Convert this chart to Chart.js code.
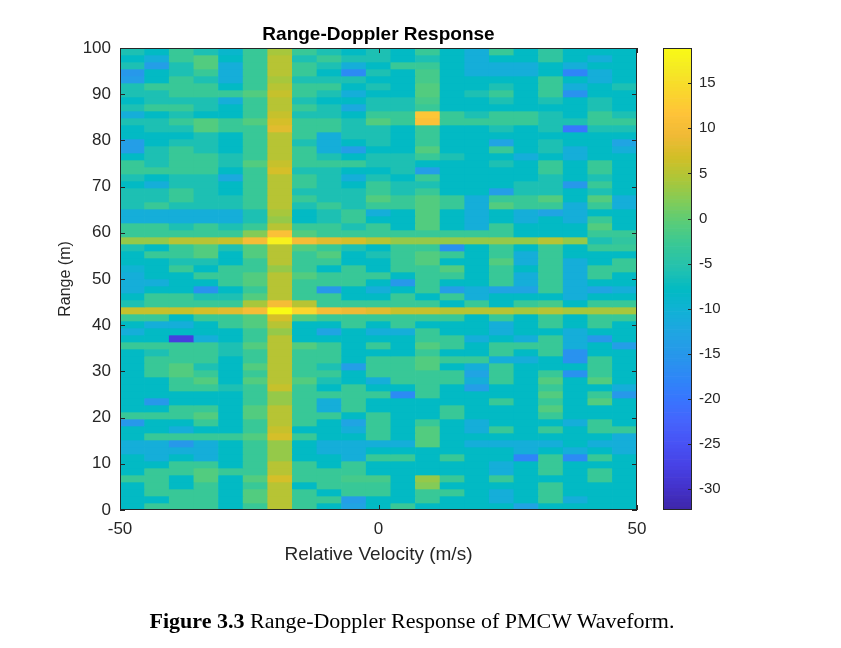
<!DOCTYPE html>
<html>
<head>
<meta charset="utf-8">
<script src="https://cdn.jsdelivr.net/npm/chart.js@4.4.1/dist/chart.umd.min.js"></script>
<style>
html,body{margin:0;padding:0;background:#fff;}
body{width:841px;height:648px;position:relative;overflow:hidden;}
#main{position:absolute;left:0;top:0;width:660px;height:648px;}
#cbar{position:absolute;left:640px;top:0;width:201px;height:648px;}
#caption{position:absolute;left:0;top:608px;width:824px;text-align:center;font-family:"Liberation Serif","Times New Roman",serif;font-size:22px;line-height:26px;color:#000;white-space:nowrap;}
</style>
</head>
<body>
<div id="main"><canvas id="c1"></canvas></div>
<div id="cbar"><canvas id="c2"></canvas></div>
<div id="caption"><b>Figure 3.3</b> Range-Doppler Response of PMCW Waveform.</div>
<script>
// ---------- DATA ----------
const chartTitle = 'Range-Doppler Response';
const xAxisTitle = 'Relative Velocity (m/s)';
const yAxisTitle = 'Range (m)';
// velocity bin centres (m/s), 21 Doppler bins spanning -50..50
const velocityBins = [-47.62,-42.86,-38.10,-33.33,-28.57,-23.81,-19.05,-14.29,-9.52,-4.76,0,4.76,9.52,14.29,19.05,23.81,28.57,33.33,38.10,42.86,47.62];
const rangeMin = 0, rangeMax = 100;
const xTicks = [-50, 0, 50];
const yTicks = [0,10,20,30,40,50,60,70,80,90,100];
const cbarTicks = [-30,-25,-20,-15,-10,-5,0,5,10,15];
const cbarMin = -32.3, cbarMax = 18.9;
// power (dB), one row per range bin, listed from the top (≈100 m) down to 0 m
const powerDb = [
[-6,-8,-3,-6,-9,-3,4,-3,-6,-8,-6,-8,-3,-8,-11,-3,-8,-4,-8,-8,-8],
[-8,-11,-3,-1,-8,-3,5,-6,-3,-6,-6,-8,-6,-8,-11,-8,-8,-4,-8,-11,-8],
[-6,-14,-6,-1,-11,-3,5,-3,-6,-11,-8,-3,-3,-8,-11,-11,-11,-8,-11,-8,-8],
[-15,-8,-6,-3,-11,-3,5,-3,-8,-17,-6,-8,-2,-8,-11,-11,-11,-8,-18,-11,-8],
[-14,-8,-3,-6,-11,-3,4,-6,-6,-6,-8,-8,-2,-8,-8,-8,-8,-3,-8,-11,-8],
[-6,-3,-3,-3,-8,-3,5,-3,-3,-8,-6,-8,-1,-8,-8,-6,-8,-3,-11,-8,-6],
[-6,-6,-3,-3,-3,-1,6,-3,-6,-11,-8,-8,-1,-8,-6,-3,-8,-3,-16,-8,-8],
[-8,-6,-6,-6,-11,-3,5,-6,-8,-8,-6,-6,-2,-8,-8,-6,-8,-6,-8,-6,-8],
[-6,-3,-3,-6,-8,-3,5,-3,-6,-12,-6,-6,-3,-8,-8,-8,-8,-8,-8,-6,-8],
[-11,-8,-6,-8,-8,-3,6,-6,-6,-8,-3,-3,12,-3,-6,-3,-3,-6,-8,-3,-6],
[-6,-6,-3,-1,-3,-1,7,-3,-3,-6,-1,-3,11,-3,-3,-3,-3,-6,-6,-3,-3],
[-8,-6,-6,-1,-3,-3,8,-3,-3,-6,-6,-8,-3,-8,-8,-6,-8,-6,-20,-6,-6],
[-8,-8,-8,-6,-8,-3,5,-3,-11,-6,-6,-8,-3,-8,-8,-8,-8,-8,-8,-8,-8],
[-14,-8,-6,-6,-8,-3,5,-6,-11,-8,-6,-8,-3,-8,-8,-13,-8,-6,-8,-8,-13],
[-14,-6,-3,-6,-8,-3,5,-3,-11,-14,-8,-8,-1,-8,-8,-3,-8,-6,-11,-8,-11],
[-8,-6,-3,-3,-6,-3,5,-3,-6,-8,-6,-6,-3,-6,-8,-8,-11,-8,-11,-8,-8],
[-3,-6,-3,-3,-6,-1,6,-3,-3,-3,-6,-6,-8,-8,-8,-6,-8,-3,-8,-3,-8],
[-3,-3,-3,-3,-8,-3,7,-6,-6,-8,-8,-6,-14,-8,-8,-8,-8,-3,-8,-3,-8],
[-6,-8,-6,-6,-12,-3,5,-3,-6,-11,-6,-8,-3,-8,-8,-8,-8,-6,-8,-6,-8],
[-8,-11,-6,-6,-8,-3,5,-3,-6,-8,-3,-6,-6,-8,-8,-8,-6,-6,-15,-3,-8],
[-6,-6,-3,-6,-8,-3,5,-6,-6,-6,-3,-6,-3,-8,-8,-14,-6,-6,-8,-6,-8],
[-6,-6,-3,-6,-6,-3,5,-3,-6,-6,-1,-3,-1,-3,-11,-3,-3,-1,-8,-1,-11],
[-6,-3,-6,-6,-6,-3,5,-6,-3,-6,-3,-3,-1,-3,-11,-1,-3,-3,-11,-3,-11],
[-11,-11,-11,-11,-11,-6,4,-8,-6,-3,-11,-8,-1,-8,-11,-8,-11,-13,-11,-8,-8],
[-11,-11,-11,-11,-11,-6,3,-8,-6,-3,-8,-8,-1,-8,-11,-8,-11,-8,-11,-3,-8],
[-3,-3,-6,-3,-6,-3,5,-3,-3,-6,-3,-8,-1,-8,-11,-3,-8,-8,-8,-1,-8],
[-3,-3,-3,-3,-3,2,11,-1,-3,-3,-3,-3,-3,-3,-3,-3,-8,-8,-8,-3,-3],
[3,3,5,5,6,10,17.5,10,8,7,5,3,3,3,3,3,3,5,3,-6,-4],
[-6,-8,-3,-1,-6,-1,5,-1,-3,-6,-8,-3,-3,-16,-8,-3,-8,-3,-8,-3,-3],
[-8,-3,-3,-1,-8,-1,5,-3,-1,-8,-6,-3,-1,-3,-8,-3,-11,-3,-8,-8,-8],
[-8,-8,-6,-6,-8,-3,5,-3,-3,-8,-8,-3,-1,-8,-8,-1,-11,-3,-11,-8,-3],
[-10,-8,-3,-8,-3,-3,3,-3,-8,-3,-8,-3,-3,-1,-8,-3,-8,-3,-11,-3,-3],
[-11,-8,-8,-3,-3,-1,5,-1,-3,-3,-3,-8,-3,-3,-8,-3,-11,-3,-11,-3,-8],
[-11,-11,-8,-8,-3,-1,5,-3,-3,-3,-8,-15,-3,-8,-8,-3,-11,-3,-11,-8,-8],
[-11,-8,-8,-16,-8,-3,5,-3,-15,-8,-11,-8,-3,-14,-11,-13,-13,-3,-11,-13,-11],
[-8,-3,-3,-6,-6,-1,5,-3,-3,-8,-8,-3,-8,-3,-11,-8,-8,-8,-11,-8,-8],
[-6,-3,-3,-3,-3,4,10,5,-3,-3,-3,-3,-3,-8,-3,-8,-3,-2,-8,-3,-3],
[6,6,6,7,8,10,18.9,14,10,9,8,6,6,5,5,5,4,5,4,4,4],
[-3,-3,-8,-3,-3,-1,7,-1,-3,-3,-3,-3,-3,-3,-8,-3,-8,-3,-8,-3,-3],
[-8,-11,-11,-8,-3,-1,5,-8,-8,-3,-8,-3,-8,-8,-8,-11,-8,-3,-8,-3,-8],
[-11,-8,-8,-8,-8,-3,3,-8,-13,-8,-11,-11,-3,-8,-8,-11,-8,-8,-11,-8,-8],
[-8,-8,-28,-11,-8,-3,5,-8,-8,-8,-8,-8,-3,-3,-11,-8,-11,-3,-11,-15,-8],
[-3,-3,-3,-3,-6,-1,5,-1,-3,-8,-3,-8,-1,-3,-8,-3,-3,-3,-11,-8,-14],
[-8,-6,-3,-3,-6,-3,5,-3,-3,-8,-8,-8,-3,-8,-8,-3,-8,-3,-16,-8,-8],
[-8,-3,-3,-3,-8,-3,5,-3,-3,-8,-3,-3,-1,-3,-3,-11,-11,-8,-16,-3,-8],
[-8,-3,-1,-6,-8,-1,5,-3,-6,-14,-3,-3,-1,-8,-11,-3,-8,-8,-8,-3,-8],
[-8,-3,-1,-3,-8,-3,5,-3,-3,-8,-3,-3,-3,-3,-13,-3,-8,-3,-16,-3,-8],
[-8,-8,-3,-1,-8,-1,5,-1,-6,-8,-11,-3,-3,-3,-11,-3,-8,-1,-8,-1,-8],
[-8,-8,-3,-3,-6,-3,6,-3,-8,-3,-8,-8,-3,-8,-14,-8,-8,-3,-8,-8,-11],
[-8,-8,-8,-8,-8,-3,3,-3,-3,-3,-3,-17,-3,-8,-8,-8,-8,-1,-8,-3,-15],
[-8,-15,-8,-8,-8,-3,3,-3,-11,-3,-8,-8,-8,-8,-8,-3,-8,-3,-8,-1,-8],
[-8,-8,-3,-3,-8,-1,5,-3,-11,-3,-8,-8,-8,-3,-8,-8,-8,-1,-8,-8,-8],
[-3,-3,-3,-1,-8,-1,5,-3,-3,-8,-3,-8,-8,-3,-8,-8,-8,-3,-8,-8,-8],
[-15,-8,-8,-3,-8,-3,5,-3,-8,-13,-3,-8,-3,-8,-11,-8,-8,-8,-11,-3,-8],
[-8,-8,-11,-8,-8,-3,6,-8,-8,-11,-3,-8,-1,-8,-11,-3,-8,-3,-8,-3,-3],
[-8,-3,-3,-3,-3,-1,7,-3,-8,-8,-3,-8,-1,-8,-8,-8,-8,-8,-8,-8,-11],
[-11,-11,-15,-11,-8,-3,3,-8,-11,-11,-11,-11,-1,-8,-11,-11,-11,-11,-8,-11,-11],
[-11,-11,-11,-11,-8,-3,3,-8,-11,-11,-8,-8,-8,-8,-8,-8,-11,-8,-11,-8,-11],
[-8,-11,-8,-11,-8,-3,3,-8,-8,-11,-3,-3,-8,-3,-8,-8,-18,-3,-17,-3,-8],
[-8,-8,-3,-3,-8,-3,5,-3,-8,-3,-8,-8,-8,-8,-8,-11,-8,-3,-8,-8,-8],
[-8,-3,-3,-1,-3,-3,5,-3,-3,-3,-8,-8,-8,-8,-8,-11,-8,-3,-8,-3,-8],
[-3,-3,-8,-1,-8,-1,7,-3,-3,-2,-2,-8,3,-3,-8,-3,-8,-8,-8,-3,-8],
[-8,-3,-8,-3,-8,-3,5,-8,-3,-3,-3,-8,2,-8,-8,-8,-8,-3,-8,-8,-8],
[-8,-3,-3,-3,-8,-1,5,-3,-8,-3,-3,-8,-3,-3,-8,-11,-8,-3,-8,-8,-8],
[-8,-8,-3,-3,-8,-1,5,-3,-3,-14,-8,-8,-3,-8,-8,-11,-8,-3,-11,-8,-8],
[-8,-3,-3,-3,-8,-3,5,-3,-8,-13,-8,-3,-8,-8,-8,-8,-13,-8,-8,-8,-8]
];

// ---------- STYLE ----------
// parula colormap anchors (every 3rd entry of the 64-colour table)
const PARULA = [
[0.2422,0.1504,0.6603],[0.2647,0.1978,0.7952],[0.2783,0.2559,0.8991],[0.2810,0.3228,0.9579],
[0.2699,0.3892,0.9906],[0.2206,0.4603,0.9973],[0.1786,0.5289,0.9682],[0.1540,0.5902,0.9218],
[0.1248,0.6459,0.8883],[0.0689,0.6948,0.8394],[0.0067,0.7312,0.7660],[0.1408,0.7584,0.6842],
[0.2161,0.7843,0.5923],[0.3406,0.8008,0.4789],[0.5044,0.7993,0.3480],[0.6720,0.7793,0.2227],
[0.8203,0.7498,0.1535],[0.9393,0.7288,0.2100],[0.9970,0.7659,0.2199],[0.9786,0.8386,0.1766],
[0.9597,0.9135,0.1423],[0.9769,0.9839,0.0805]];
function parula(v) {
  let t = (v - cbarMin) / (cbarMax - cbarMin);
  t = Math.max(0, Math.min(1, t));
  const p = t * (PARULA.length - 1);
  const i = Math.min(PARULA.length - 2, Math.floor(p));
  const f = p - i;
  const a = PARULA[i], b = PARULA[i + 1];
  const c = [0,1,2].map(k => Math.round(255 * (a[k] + (b[k] - a[k]) * f)));
  return `rgb(${c[0]},${c[1]},${c[2]})`;
}
const INK = '#262626';
Chart.defaults.font.family = "'Liberation Sans', Arial, Helvetica, sans-serif";
Chart.defaults.color = INK;

const boxPlugin = {
  id: 'boxPlugin',
  afterDatasetsDraw(chart, args, opts) {
    const {ctx, chartArea: a} = chart;
    ctx.save();
    ctx.strokeStyle = INK;
    ctx.lineWidth = 1;
    ctx.strokeRect(Math.round(a.left) + 0.5, Math.round(a.top) + 0.5, Math.round(a.right - a.left) - 1, Math.round(a.bottom - a.top) - 1);
    const L = opts.len || 5;
    ctx.beginPath();
    if (opts.xTicks) {
      const sx = chart.scales.x;
      sx.ticks.forEach(t => {
        const px = Math.round(sx.getPixelForValue(t.value)) + 0.5;
        ctx.moveTo(px, a.bottom); ctx.lineTo(px, a.bottom - L);
        ctx.moveTo(px, a.top); ctx.lineTo(px, a.top + L);
      });
    }
    const sy = chart.scales.y;
    sy.ticks.forEach(t => {
      const py = Math.round(sy.getPixelForValue(t.value)) + 0.5;
      if (opts.yLeft) { ctx.moveTo(a.left, py); ctx.lineTo(a.left + L, py); }
      ctx.moveTo(a.right, py); ctx.lineTo(a.right - L, py);
    });
    ctx.stroke();
    ctx.restore();
  }
};

// ---------- HEATMAP ----------
const nRows = powerDb.length;
const rowH = (rangeMax - rangeMin) / nRows;
const heatDatasets = powerDb.map((row, i) => {
  const r = nRows - 1 - i;        // range-bin index from bottom
  const lo = rangeMin + r * rowH, hi = lo + rowH;
  return {
    data: velocityBins.map(v => ({x: v, y: [lo, hi]})),
    backgroundColor: row.map(parula),
    borderWidth: 0,
    grouped: false,
    barPercentage: 1,
    categoryPercentage: 1
  };
});

new Chart(document.getElementById('c1'), {
  type: 'bar',
  data: {datasets: heatDatasets},
  options: {
    responsive: true,
    maintainAspectRatio: false,
    animation: false,
    events: [],
    layout: {padding: {left: 52.4, top: 10, right: 23, bottom: 77.6}},
    plugins: {
      legend: {display: false},
      tooltip: {enabled: false},
      title: {
        display: true, text: chartTitle, fullSize: false, color: '#000',
        font: {size: 19, weight: 'bold', lineHeight: 1.2},
        padding: {top: 13.6, bottom: 1.6}
      },
      boxPlugin: {xTicks: true, yLeft: true, len: 5}
    },
    scales: {
      x: {
        type: 'linear', min: -50, max: 50, offset: false,
        grid: {display: false, drawTicks: false, offset: false}, border: {display: false},
        afterBuildTicks: s => { s.ticks = xTicks.map(v => ({value: v})); },
        ticks: {padding: 9, font: {size: 17}, color: INK, maxRotation: 0},
        title: {display: true, text: xAxisTitle, color: INK, font: {size: 19, lineHeight: 1.2}, padding: {top: 4, bottom: 4}},
        afterFit: s => { s.height = 60.4; }
      },
      y: {
        type: 'linear', min: rangeMin, max: rangeMax,
        grid: {display: false, drawTicks: false}, border: {display: false},
        afterBuildTicks: s => { s.ticks = yTicks.map(v => ({value: v})); },
        ticks: {padding: 9, font: {size: 17}, color: INK},
        title: {display: true, text: yAxisTitle, color: INK, font: {size: 16, lineHeight: 1.2}, padding: {top: 4, bottom: 4}},
        afterFit: s => { s.width = 67.6; }
      }
    }
  },
  plugins: [boxPlugin]
});

// ---------- COLORBAR ----------
const nSeg = 128;
const cbarDatasets = [];
for (let k = 0; k < nSeg; k++) {
  const lo = cbarMin + (cbarMax - cbarMin) * k / nSeg;
  const hi = cbarMin + (cbarMax - cbarMin) * (k + 1) / nSeg;
  cbarDatasets.push({
    data: [[lo, hi]],
    backgroundColor: parula((lo + hi) / 2),
    borderWidth: 0, grouped: false, barPercentage: 1, categoryPercentage: 1
  });
}
new Chart(document.getElementById('c2'), {
  type: 'bar',
  data: {labels: [''], datasets: cbarDatasets},
  options: {
    responsive: true,
    maintainAspectRatio: false,
    animation: false,
    events: [],
    layout: {padding: {left: 23, top: 48, right: 99, bottom: 138}},
    plugins: {legend: {display: false}, tooltip: {enabled: false}, boxPlugin: {xTicks: false, yLeft: false, len: 4}},
    scales: {
      x: {display: false, offset: true},
      y: {
        position: 'right', min: cbarMin, max: cbarMax,
        grid: {display: false, drawTicks: false}, border: {display: false},
        afterBuildTicks: s => { s.ticks = cbarTicks.map(v => ({value: v})); },
        ticks: {padding: 7, font: {size: 15}, color: INK},
        afterFit: s => { s.width = 50; }
      }
    }
  },
  plugins: [boxPlugin]
});
</script>
</body>
</html>
